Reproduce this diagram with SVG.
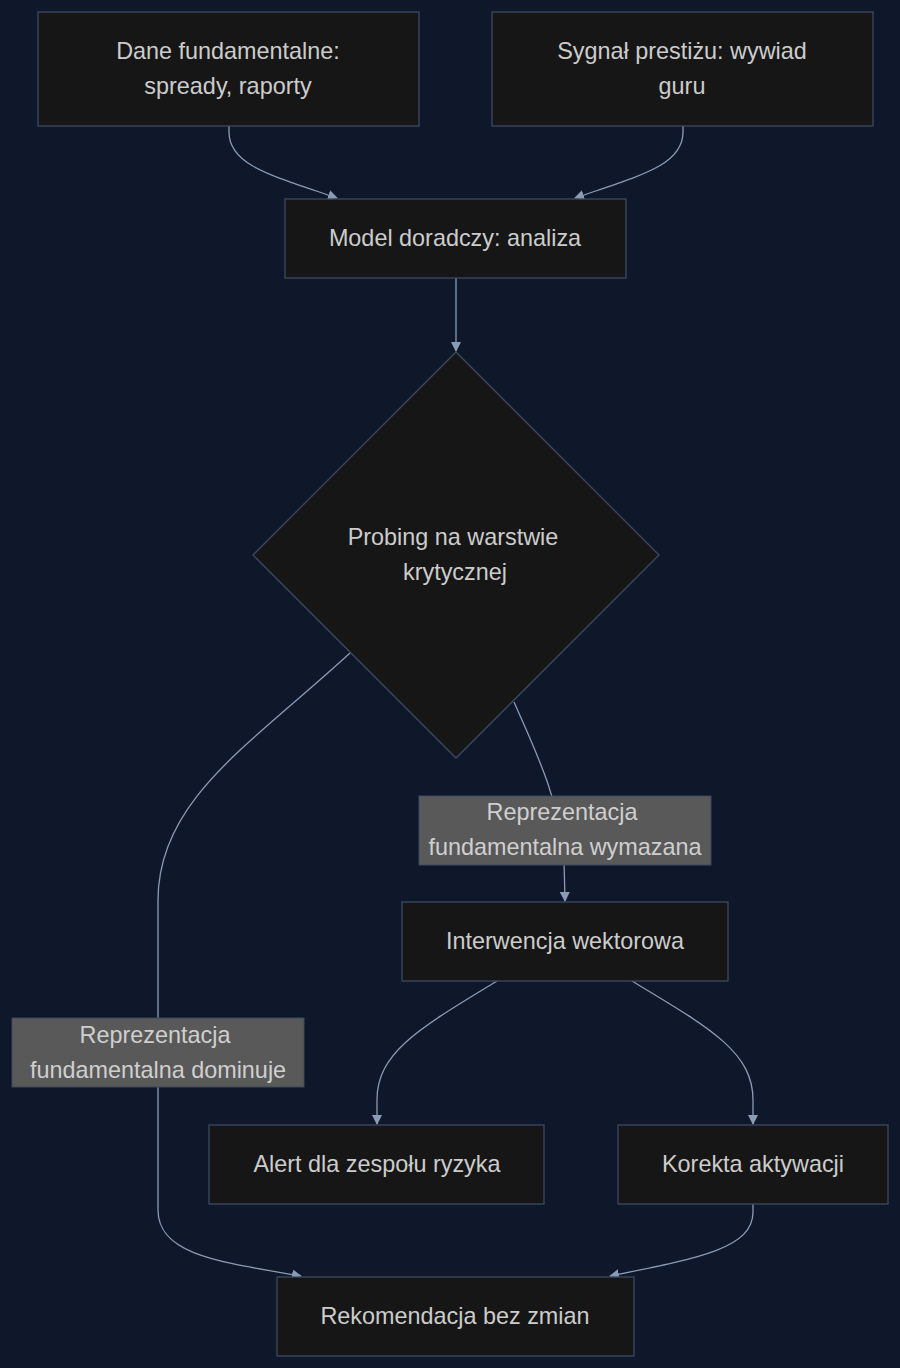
<svg xmlns="http://www.w3.org/2000/svg" width="900" height="1368" viewBox="0 0 900 1368">
<style>
.n rect,.n polygon{fill:#161616;stroke:#3b4a62;stroke-width:1.3}
text{font-family:"Liberation Sans",Arial,sans-serif;font-size:23.4px;fill:#cccccc;text-anchor:middle}
.e path{fill:none;stroke:#8a9bb5;stroke-width:1.3;marker-end:url(#ah)}
.lb rect{fill:#595959;stroke:#3b4a62;stroke-width:1}
.lb text{fill:#cfcfcf}
</style>
<defs>
<marker id="ah" viewBox="0 0 10 10" refX="9" refY="5" markerWidth="10" markerHeight="10" markerUnits="userSpaceOnUse" orient="auto">
<path d="M0,0 L10,5 L0,10 z" fill="#8a9bb5"/>
</marker>
</defs>
<rect width="900" height="1368" fill="#0f172a"/>
<g class="e" id="edges">
<path d="M229,126 L229,132 C229,165 270,175 337,198"/>
<path d="M683,126 L683,132 C683,165 642,175 575,198"/>
<path d="M456,278 L456,351"/>
<path d="M514,702 C535,750 560,800 564,860 L565,901"/>
<path d="M350,653 C250,745 158,800 158,900 L158,1210 C158,1255 220,1262 301,1276"/>
<path d="M497,981 C420,1028 377,1052 377,1100 L377,1124"/>
<path d="M632,981 C710,1028 753,1052 753,1100 L753,1124"/>
<path d="M753,1204 L753,1212 C753,1248 700,1258 610,1276"/>
</g>
<g class="n" id="nA"><rect x="38" y="12" width="381" height="114"/><text x="228" y="59">Dane fundamentalne:</text><text x="228" y="94">spready, raporty</text></g>
<g class="n" id="nB"><rect x="492" y="12" width="381" height="114"/><text x="682" y="59">Sygnał prestiżu: wywiad</text><text x="682" y="94">guru</text></g>
<g class="n" id="nC"><rect x="285" y="199" width="341" height="79"/><text x="455" y="246">Model doradczy: analiza</text></g>
<g class="n" id="nD"><polygon points="456,352 659,555 456,758 253,555"/><text x="453" y="545">Probing na warstwie</text><text x="455" y="580">krytycznej</text></g>
<g class="lb" id="l1"><rect x="419" y="796" width="292" height="69"/><text x="562" y="820">Reprezentacja</text><text x="565" y="855">fundamentalna wymazana</text></g>
<g class="n" id="nE"><rect x="402" y="902" width="326" height="79"/><text x="565" y="949">Interwencja wektorowa</text></g>
<g class="lb" id="l2"><rect x="12" y="1018" width="292" height="69"/><text x="155" y="1043">Reprezentacja</text><text x="158" y="1078">fundamentalna dominuje</text></g>
<g class="n" id="nF"><rect x="209" y="1125" width="335" height="79"/><text x="377" y="1172">Alert dla zespołu ryzyka</text></g>
<g class="n" id="nG"><rect x="618" y="1125" width="270" height="79"/><text x="753" y="1172">Korekta aktywacji</text></g>
<g class="n" id="nH"><rect x="277" y="1277" width="357" height="79"/><text x="455" y="1324">Rekomendacja bez zmian</text></g>
</svg>
